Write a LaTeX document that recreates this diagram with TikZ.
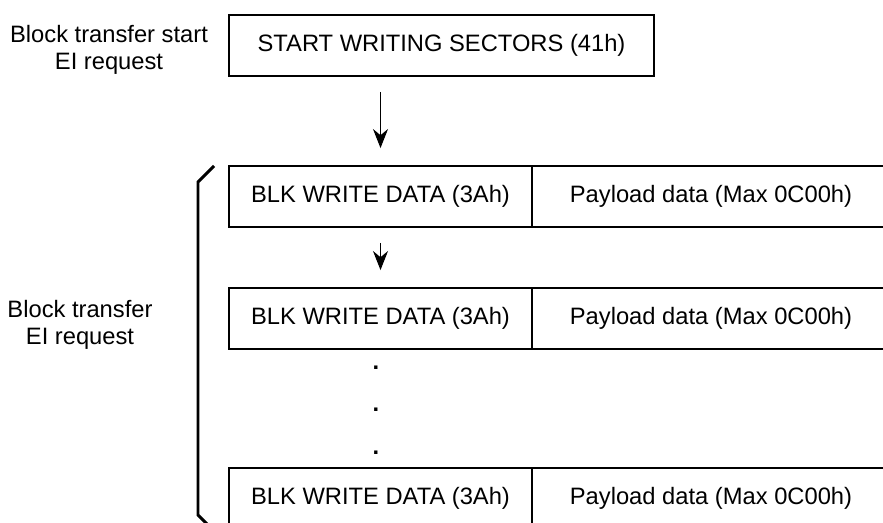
\documentclass[tikz,border=0pt]{standalone}
\usepackage{fontspec}
\setmainfont{Liberation Sans}
\usepackage{tikz}
\usetikzlibrary{arrows.meta}

\begin{document}
\begin{tikzpicture}[box/.style={draw, line width=1.1pt, minimum height=1.22cm, inner sep=0pt, font=\fontsize{13.5}{15}\selectfont},
  txt/.style={align=center, font=\fontsize{13.5}{15.4}\selectfont},
  flow/.style={line width=0.6pt, -{Stealth[length=0.38cm,width=0.3cm]}}]
\clip (0,0) rectangle (17.66,10.44);
\node[txt] (startlbl) at (2.18,9.45) {Block transfer start\\EI request};
\node[box, minimum width=8.5cm] (start) at (8.83,9.53) {START WRITING SECTORS (41h)};
\node[box, minimum width=6.06cm] (blkA) at (7.61,6.51) {BLK WRITE DATA (3Ah)};
\node[box, minimum width=7.16cm] (payA) at (14.22,6.51) {Payload data (Max 0C00h)};
\node[box, minimum width=6.06cm] (blkB) at (7.61,4.07) {BLK WRITE DATA (3Ah)};
\node[box, minimum width=7.16cm] (payB) at (14.22,4.07) {Payload data (Max 0C00h)};
\node[box, minimum width=6.06cm] (blkC) at (7.61,0.47) {BLK WRITE DATA (3Ah)};
\node[box, minimum width=7.16cm] (payC) at (14.22,0.47) {Payload data (Max 0C00h)};
\node[txt] (blklbl) at (1.6,3.95) {Block transfer\\EI request};
\foreach \y/\n in {3.06/dotA, 2.22/dotB, 1.36/dotC}
  \node[txt, anchor=base, font=\bfseries\fontsize{13.5}{15.4}\selectfont] (\n) at (7.52,\y) {.};
\draw[flow] ([yshift=-0.3cm]start.south -| blkA.center) -- ([yshift=0.34cm]blkA.north);
\draw[flow] ([yshift=-0.3cm]blkA.south) -- ([yshift=0.34cm]blkB.north);
\draw[line width=1.7pt] (4.28,7.12) -- (3.96,6.8) -- (3.96,0.14) -- (4.28,-0.18);
\end{tikzpicture}
\end{document}
